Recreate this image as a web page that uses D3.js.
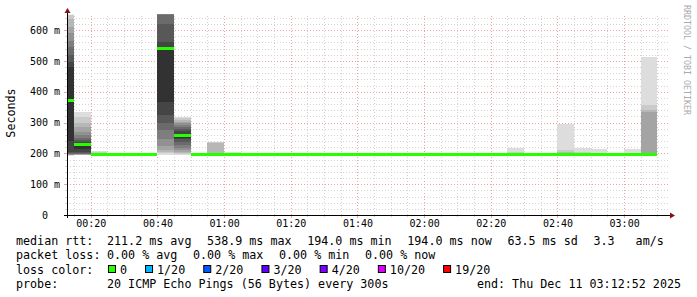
<!DOCTYPE html>
<html>
<head>
<meta charset="utf-8">
<script src="https://cdn.jsdelivr.net/npm/d3@7"></script>
<style>
	body { margin: 0; background: #fff; }
	svg { display: block; font-family: "DejaVu Sans Mono", monospace; }
	text { white-space: pre; }
</style>
</head>
<body>
<svg width="697" height="297"></svg>
<script>
const svg = d3.select("svg");

// time window of the graph and the 5 min steps (value stamped at end of its step)
const startTime = "2025-12-11T00:12:52Z";
const endTime = "2025-12-11T03:12:52Z";
const firstStepEnd = "2025-12-11T00:15:00Z";
const stepMinutes = 5;

// median rtt per step, in ms
const medians = [
	371, 226, 195, 195, 195, 195, 538.9, 256, 196, 196, 196, 195,
	195, 195, 195, 195, 195, 195, 195, 195, 195, 195, 195, 195,
	195, 195, 195, 195, 195, 195, 195, 195, 195, 195, 195, 194
];

// steps that show smoke, and their 20 sorted ping times (ms)
const smokeSteps = [0, 1, 2, 6, 7, 9, 10, 27, 30, 31, 32, 34, 35];
const smokePings = [
	[192, 193, 194, 195, 196, 197, 198, 200, 204, 240, 480, 495, 520, 545, 565, 590, 610, 635, 650, 700],
	[193, 194, 195, 196, 197, 198, 199, 201, 205, 215, 232, 237, 243, 250, 260, 270, 285, 300, 318, 335],
	[193, 194, 194, 194, 195, 195, 195, 195, 195, 195, 195, 196, 196, 196, 196, 197, 198, 200, 203, 207],
	[196, 200, 205, 212, 225, 245, 275, 300, 325, 365, 545, 560, 620, 700, 740, 780, 820, 860, 900, 950],
	[194, 197, 201, 205, 210, 218, 228, 238, 245, 250, 262, 272, 280, 286, 292, 298, 303, 308, 313, 318],
	[193, 194, 194, 195, 195, 195, 195, 196, 196, 196, 196, 197, 197, 198, 199, 199, 200, 235, 236, 238],
	[193, 194, 194, 194, 195, 195, 195, 195, 195, 196, 196, 196, 196, 196, 197, 197, 198, 199, 202, 204],
	[193, 194, 194, 194, 195, 195, 195, 195, 195, 196, 196, 196, 196, 197, 197, 198, 199, 200, 203, 218],
	[193, 194, 194, 194, 195, 195, 195, 195, 195, 196, 196, 196, 196, 197, 198, 199, 200, 205, 211, 295],
	[193, 194, 194, 194, 195, 195, 195, 195, 195, 196, 196, 196, 196, 197, 197, 198, 199, 200, 203, 217],
	[193, 194, 194, 194, 195, 195, 195, 195, 195, 196, 196, 196, 196, 197, 197, 198, 199, 200, 202, 215],
	[193, 194, 194, 194, 195, 195, 195, 195, 195, 196, 196, 196, 196, 197, 197, 198, 199, 200, 202, 213],
	[193, 194, 194, 194, 195, 195, 195, 195, 195, 196, 196, 197, 197, 198, 198, 200, 335, 340, 357, 512]
];

const yTicks = [0, 100, 200, 300, 400, 500, 600];
const yMax = 650;

const rttStats = ["211.2 ms avg", "538.9 ms max", "194.0 ms min", "194.0 ms now", "63.5 ms sd", "3.3   am/s"];
const lossStats = ["0.00 % avg", "0.00 % max", "0.00 % min", "0.00 % now"];
const lossLabels = ["0", "1/20", "2/20", "3/20", "4/20", "10/20", "19/20"];
const lossColors = ["#26ff00", "#00b8ff", "#0059ff", "#5e00ff", "#7e00ff", "#dd00ff", "#ff0000"];
const probeText = "20 ICMP Echo Pings (56 Bytes) every 300s";
const endText = "end: Thu Dec 11 03:12:52 2025";

const margin = { left: 67, right: 30, top: 14.6, bottom: 82 };
const plotRight = 667;
const plotBottom = 215;

const t0 = new Date(startTime);
const t1 = new Date(endTime);

const x = d3.scaleUtc().domain([t0, t1]).range([margin.left, plotRight]);
const y = d3.scaleLinear().domain([0, yMax]).range([plotBottom, margin.top]);

const stepEnd = i => d3.utcMinute.offset(new Date(firstStepEnd), i * stepMinutes);
const stepStart = i => d3.utcMinute.offset(new Date(firstStepEnd), (i - 1) * stepMinutes);

svg.append("defs").append("clipPath").attr("id", "plot")
	.append("rect")
	.attr("x", margin.left).attr("y", margin.top)
	.attr("width", plotRight - margin.left).attr("height", plotBottom - margin.top);

// grid
const grid = svg.append("g").attr("shape-rendering", "crispEdges");
const minorColor = "#d4d4d4";
const majorColor = "#eaa4a4";

const minorTimes = d3.utcMinute.every(5).range(t0, t1);
minorTimes.forEach(t => {
	const major = t.getUTCMinutes() % 20 === 0;
	grid.append("line")
		.attr("x1", Math.round(x(t)) + 0.5).attr("x2", Math.round(x(t)) + 0.5)
		.attr("y1", plotBottom).attr("y2", margin.top)
		.attr("stroke", major ? majorColor : minorColor)
		.attr("stroke-dasharray", "1,2");
	grid.append("line")
		.attr("x1", Math.round(x(t)) + 0.5).attr("x2", Math.round(x(t)) + 0.5)
		.attr("y1", plotBottom).attr("y2", plotBottom + (major ? 3 : 2))
		.attr("stroke", major ? majorColor : minorColor);
});

d3.range(20, yMax, 20).forEach(v => {
	const major = v % 100 === 0;
	grid.append("line")
		.attr("x1", margin.left).attr("x2", plotRight + 1)
		.attr("y1", Math.round(y(v)) + 0.5).attr("y2", Math.round(y(v)) + 0.5)
		.attr("stroke", major ? majorColor : minorColor)
		.attr("stroke-dasharray", "1,2");
	grid.append("line")
		.attr("x1", margin.left - (major ? 3 : 2)).attr("x2", margin.left)
		.attr("y1", Math.round(y(v)) + 0.5).attr("y2", Math.round(y(v)) + 0.5)
		.attr("stroke", major ? majorColor : minorColor);
});

// smoke: band k spans ping k .. ping 19-k, darker toward the middle
const marks = svg.append("g").attr("clip-path", "url(#plot)").attr("shape-rendering", "crispEdges");
const half = 10;
smokeSteps.forEach((s, j) => {
	const p = smokePings[j];
	for (let k = 0; k < half; k++) {
		const c = Math.floor(190 / half * (half - 1 - k)) + 50;
		const x0 = Math.round(x(stepStart(s)));
		const x1 = Math.round(x(stepEnd(s)));
		marks.append("rect")
			.attr("x", x0)
			.attr("width", x1 - x0)
			.attr("y", y(p[19 - k]))
			.attr("height", y(p[k]) - y(p[19 - k]))
			.attr("fill", d3.rgb(c, c, c));
	}
});

// median line
marks.selectAll(".median").data(medians)
	.enter().append("rect")
		.attr("class", "median")
		.attr("x", (d, i) => Math.round(x(stepStart(i))))
		.attr("width", (d, i) => Math.round(x(stepEnd(i))) - Math.round(x(stepStart(i))))
		.attr("y", d => Math.floor(y(d) - 1.5))
		.attr("height", 3)
		.attr("fill", lossColors[0]);

// axes
const axisColor = "#000";
svg.append("line")
	.attr("x1", margin.left - 3).attr("x2", 670)
	.attr("y1", plotBottom + 0.5).attr("y2", plotBottom + 0.5)
	.attr("stroke", axisColor);
svg.append("line")
	.attr("x1", margin.left + 0.5).attr("x2", margin.left + 0.5)
	.attr("y1", plotBottom + 3).attr("y2", 12)
	.attr("stroke", axisColor);
svg.append("path")
	.attr("d", `M${margin.left + 0.5},8 L${margin.left - 2.5},13 L${margin.left + 3.5},13 Z`)
	.attr("fill", "#8b1010");
svg.append("path")
	.attr("d", `M675,${plotBottom + 0.5} L670,${plotBottom - 2.5} L670,${plotBottom + 3.5} Z`)
	.attr("fill", "#8b1010");

const yAxis = d3.axisLeft(y)
	.tickValues(yTicks)
	.tickSize(0)
	.tickPadding(7)
	.tickFormat(d => d ? d + " m" : "0  ");
const yAxisG = svg.append("g")
	.attr("transform", `translate(${margin.left},0)`)
	.call(yAxis);
yAxisG.select(".domain").remove();
yAxisG.selectAll("text")
	.attr("font-family", "DejaVu Sans Mono")
	.attr("font-size", 10)
	.attr("fill", "#000");

const xAxis = d3.axisBottom(x)
	.ticks(d3.utcMinute.every(20))
	.tickSize(0)
	.tickPadding(5)
	.tickFormat(d3.utcFormat("%H:%M"));
const xAxisG = svg.append("g")
	.attr("transform", `translate(0,${plotBottom})`)
	.call(xAxis);
xAxisG.select(".domain").remove();
xAxisG.selectAll("text")
	.attr("font-family", "DejaVu Sans Mono")
	.attr("font-size", 10)
	.attr("fill", "#000");

svg.append("text")
	.attr("transform", "translate(15,113) rotate(-90)")
	.attr("text-anchor", "middle")
	.attr("font-size", 11.7)
	.text("Seconds");

svg.append("text")
	.attr("transform", "translate(684,5) rotate(90)")
	.attr("font-size", 8.3)
	.attr("fill", "#aaa")
	.text("RRDTOOL / TOBI OETIKER");

// legend
const fs = 11.7;
const cw = 7.05;
const rows = [244.5, 259, 273.5, 288];
const legend = svg.append("g").attr("font-size", fs).attr("fill", "#000");

legend.append("text").attr("x", 16).attr("y", rows[0]).text("median rtt:");
legend.append("text").attr("x", 16).attr("y", rows[1]).text("packet loss:");
legend.append("text").attr("x", 16).attr("y", rows[2]).text("loss color:");
legend.append("text").attr("x", 16).attr("y", rows[3]).text("probe:");

const tokenRow = (tokens, row) => {
	let cx = 107;
	tokens.forEach(t => {
		legend.append("text").attr("x", cx).attr("y", row).text(t);
		cx += t.length * cw + 15.5;
	});
};
tokenRow(rttStats, rows[0]);
tokenRow(lossStats, rows[1]);

let bx = 108;
lossLabels.forEach((l, i) => {
	legend.append("rect")
		.attr("x", bx + 0.5).attr("y", rows[2] - 8)
		.attr("width", 7).attr("height", 7)
		.attr("fill", lossColors[i])
		.attr("stroke", "#000");
	legend.append("text").attr("x", bx + 12).attr("y", rows[2]).text(l);
	bx += 12 + l.length * cw + 18;
});

legend.append("text").attr("x", 107).attr("y", rows[3]).text(probeText);
legend.append("text").attr("x", 681).attr("y", rows[3]).attr("text-anchor", "end").text(endText);
</script>
</body>
</html>
